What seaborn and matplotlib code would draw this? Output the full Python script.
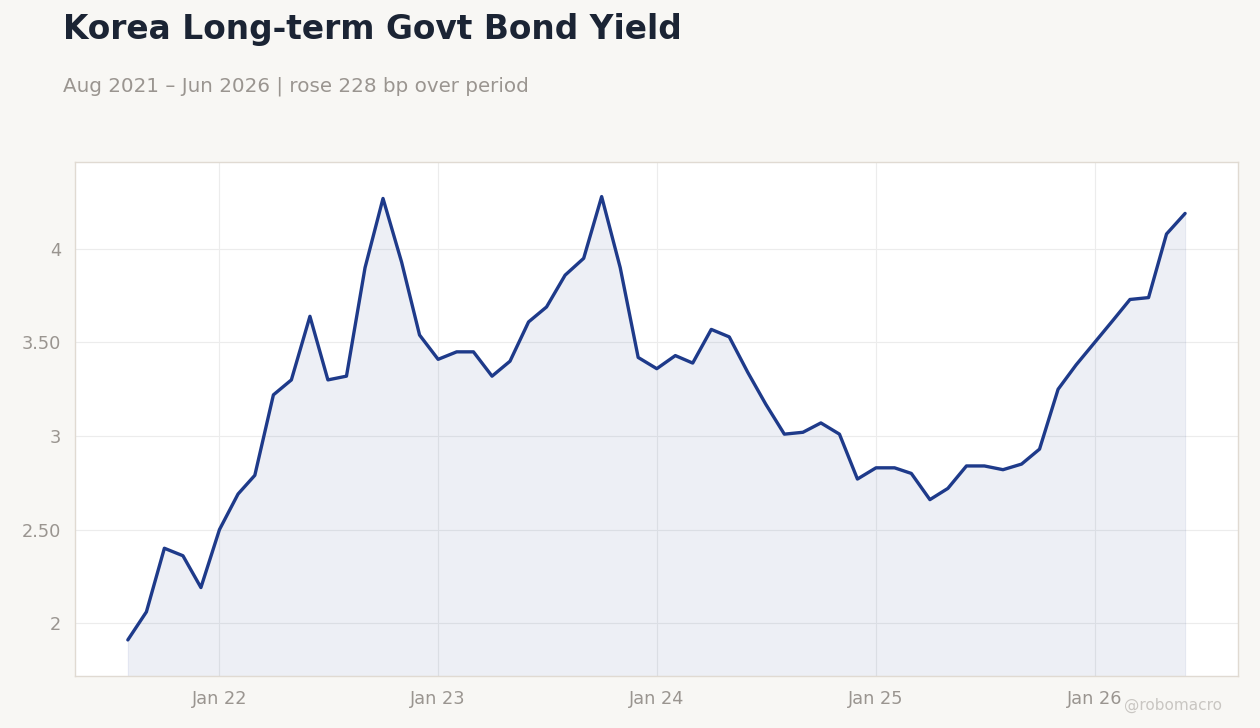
import matplotlib
matplotlib.use("Agg")
import matplotlib.pyplot as plt
import matplotlib.dates as mdates
from matplotlib.ticker import FuncFormatter, FixedLocator
import seaborn as sns
import pandas as pd

# monthly yield, Aug 2021 .. Jun 2026
start_month = "2021-08-01"
yields = [
    1.91, 2.06, 2.40, 2.36, 2.19,                                      # 2021
    2.50, 2.69, 2.79, 3.22, 3.30, 3.64, 3.30, 3.32, 3.90, 4.27, 3.93, 3.54,  # 2022
    3.41, 3.45, 3.45, 3.32, 3.40, 3.61, 3.69, 3.86, 3.95, 4.28, 3.90, 3.42,  # 2023
    3.36, 3.43, 3.39, 3.57, 3.53, 3.34, 3.17, 3.01, 3.02, 3.07, 3.01, 2.77,  # 2024
    2.83, 2.83, 2.80, 2.66, 2.72, 2.84, 2.84, 2.82, 2.85, 2.93, 3.25, 3.38,  # 2025
    3.50, 3.62, 3.73, 3.74, 4.08, 4.19,                                # 2026
]
y_ticks = [2, 2.5, 3, 3.5, 4]

title = "Korea Long-term Govt Bond Yield"
subtitle = "Aug 2021 \u2013 Jun 2026 | rose 228 bp over period"
credit = "@robomacro"

df = pd.DataFrame({
    "date": pd.date_range(start_month, periods=len(yields), freq="MS"),
    "yield": yields,
})

bg = "#f8f7f4"
line_col = "#1e3a8a"
grey = "#9a9590"

sns.set_style("whitegrid")
plt.rcParams["font.family"] = ["DejaVu Sans"]

fig, ax = plt.subplots(figsize=(12.6, 7.28), dpi=100)
fig.patch.set_facecolor(bg)
ax.set_facecolor("white")
fig.subplots_adjust(left=0.0595, right=0.9825, top=0.7775, bottom=0.0714)

ymin, ymax = 1.717, 4.465
sns.lineplot(data=df, x="date", y="yield", ax=ax, color=line_col, linewidth=2.4)
ax.fill_between(df["date"], df["yield"], ymin, color=line_col, alpha=0.08, linewidth=0.8)
ax.set_ylim(ymin, ymax)

ax.xaxis.set_major_locator(mdates.YearLocator())
ax.xaxis.set_major_formatter(mdates.DateFormatter("%b %y"))
ax.yaxis.set_major_locator(FixedLocator(y_ticks))
ax.yaxis.set_major_formatter(FuncFormatter(lambda v, p: f"{v:.2f}".replace(".00", "")))

ax.set_xlabel("")
ax.set_ylabel("")
ax.grid(True, color="#ececec", linewidth=0.8)
ax.tick_params(axis="both", colors="#8a8580", labelcolor=grey, labelsize=12.8, length=4, width=0.8, pad=6)
for s in ax.spines.values():
    s.set_color("#e0dad2")
    s.set_linewidth(1)

fig.text(63 / 1260, 1 - 30 / 728, title, fontsize=23.7, fontweight="bold", color="#1b2434", va="center", ha="left")
fig.text(63 / 1260, 1 - 86 / 728, subtitle, fontsize=14.3, color=grey, va="center", ha="left")
fig.text(1222 / 1260, 1 - 705 / 728, credit, fontsize=11, color="#c9c6c2", va="center", ha="right")

fig.savefig("out.png", dpi=100, facecolor=bg)
